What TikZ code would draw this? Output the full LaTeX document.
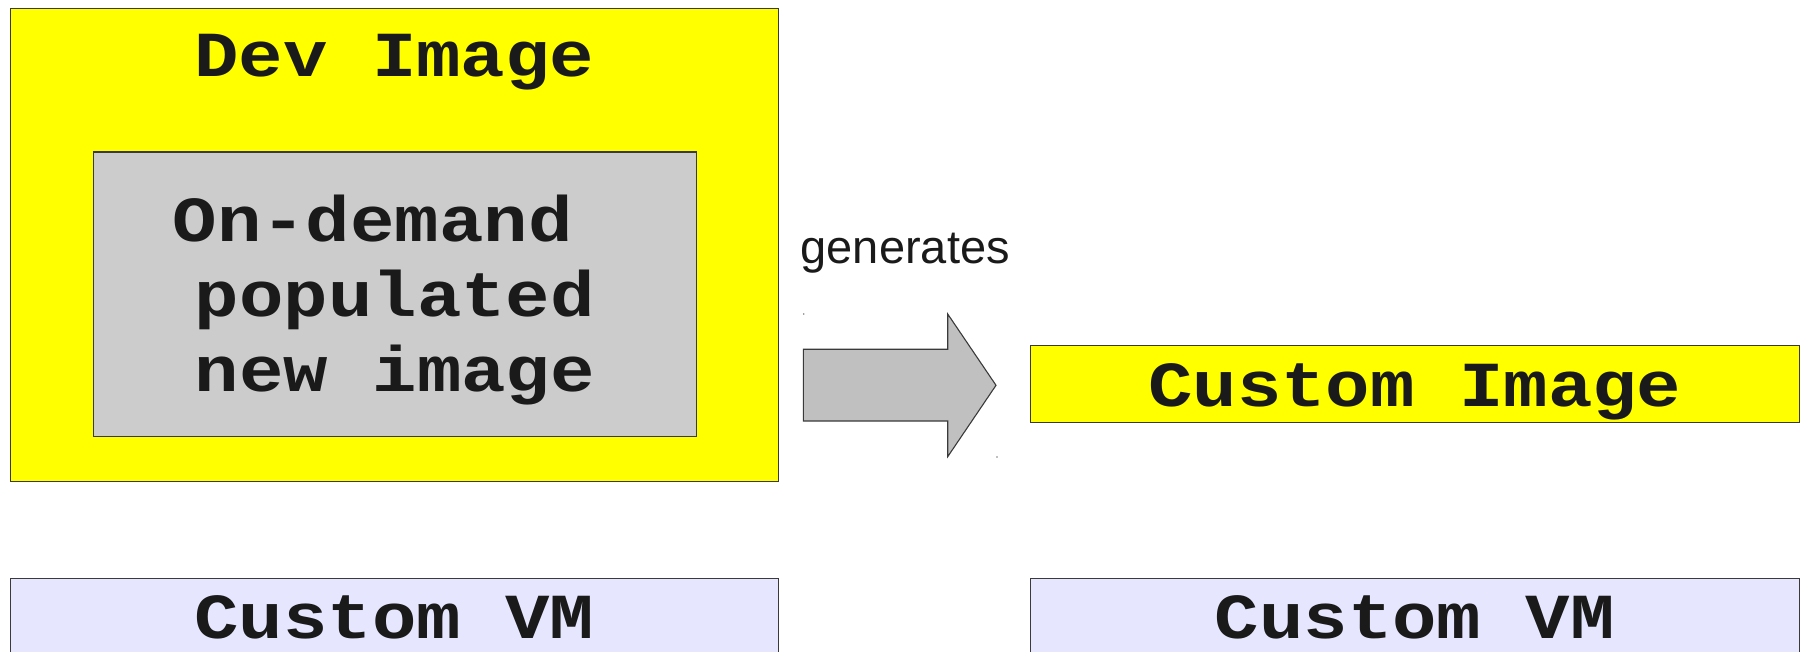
\documentclass[tikz,border=0pt]{standalone}
\usepackage{fontspec}
\setmonofont{Liberation Mono}[FakeStretch=1.153]
\newfontfamily\arialfont{Liberation Sans}
\definecolor{boxyellow}{HTML}{FFFF00}
\definecolor{innergray}{HTML}{CCCCCC}
\definecolor{arrowgray}{HTML}{C0C0C0}
\definecolor{vmblue}{HTML}{E6E6FF}
\definecolor{edgegray}{HTML}{3A3A3A}
\definecolor{inkdark}{HTML}{1A1A1A}
\tikzset{
  panel/.style={draw=edgegray, line width=1.1pt, inner sep=0pt, outer sep=0pt, rectangle},
  bigtxt/.style={font=\fontsize{64.2}{74.5}\selectfont\ttfamily\bfseries, text=inkdark, inner sep=0pt, anchor=base},
  captxt/.style={font=\fontsize{47}{50}\selectfont\arialfont, text=inkdark, inner sep=0pt, anchor=base west},
  arrowshape/.style={draw=edgegray, line width=1.1pt, fill=arrowgray, line join=miter},
}
\begin{document}
\begin{tikzpicture}[x=1pt,y=-1pt]
\clip (0,0) rectangle (1805,652);
\useasboundingbox (0,0) rectangle (1805,652);
% Dev image panel
\node[panel, fill=boxyellow, minimum width=767.8pt, minimum height=473.1pt] (dev) at (394.3,244.65) {};
\node[bigtxt] (devt) at (394.3,77) {Dev Image};
% inner gray
\node[panel, fill=innergray, minimum width=603.3pt, minimum height=284.3pt] (od) at (394.85,294.15) {};
\node[bigtxt] (odt1) at (394.85,242) {On-demand\phantom{x}};
\node[bigtxt] (odt2) at (394.85,316.5) {populated};
\node[bigtxt] (odt3) at (394.85,391) {new image};
% generates label and arrow
\node[captxt] (gent) at (800.5,264) {generates};
\coordinate (a1) at (803.3,349.3);
\coordinate (a2) at (947.7,349.3);
\coordinate (a3) at (947.7,314);
\coordinate (a4) at (996,385.3);
\coordinate (a5) at (947.7,456.7);
\coordinate (a6) at (947.7,421);
\coordinate (a7) at (803.3,421);
\draw[arrowshape] (a1) -- (a2) -- (a3) -- (a4) -- (a5) -- (a6) -- (a7) -- cycle;
\fill[gray] (803.7,314) circle (0.8);
\fill[gray] (997,457) circle (0.8);
% custom image
\node[panel, fill=boxyellow, minimum width=769pt, minimum height=77.1pt] (ci) at (1414.8,383.95) {};
\node[bigtxt] (cit) at (1414.8,406) {Custom Image};
% custom VMs
\node[panel, fill=vmblue, minimum width=767.8pt, minimum height=120pt] (vm1) at (394.3,638.3) {};
\node[bigtxt] (vm1t) at (394.3,638.5) {Custom VM};
\node[panel, fill=vmblue, minimum width=769pt, minimum height=120pt] (vm2) at (1414.8,638.3) {};
\node[bigtxt] (vm2t) at (1414.8,638.5) {Custom VM};
\end{tikzpicture}
\end{document}
